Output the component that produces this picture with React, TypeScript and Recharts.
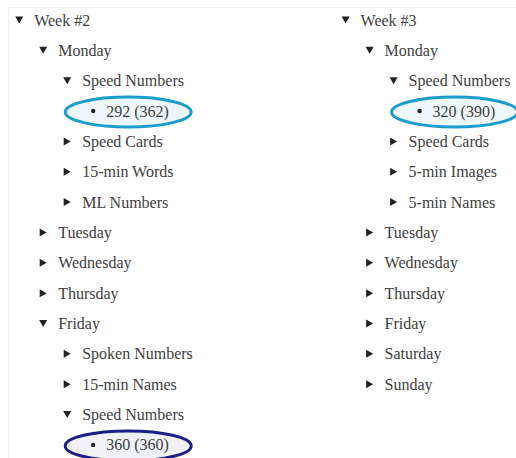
import { Scatter, ScatterChart, XAxis, YAxis } from "recharts"

// tree outline: each entry is one visible row
type Row = {
  label: string
  depth: number
  kind: "open" | "closed" | "leaf"
  mark?: "light" | "dark"
}

const week2: Row[] = [
  { label: "Week #2", depth: 0, kind: "open" },
  { label: "Monday", depth: 1, kind: "open" },
  { label: "Speed Numbers", depth: 2, kind: "open" },
  { label: "292 (362)", depth: 3, kind: "leaf", mark: "light" },
  { label: "Speed Cards", depth: 2, kind: "closed" },
  { label: "15-min Words", depth: 2, kind: "closed" },
  { label: "ML Numbers", depth: 2, kind: "closed" },
  { label: "Tuesday", depth: 1, kind: "closed" },
  { label: "Wednesday", depth: 1, kind: "closed" },
  { label: "Thursday", depth: 1, kind: "closed" },
  { label: "Friday", depth: 1, kind: "open" },
  { label: "Spoken Numbers", depth: 2, kind: "closed" },
  { label: "15-min Names", depth: 2, kind: "closed" },
  { label: "Speed Numbers", depth: 2, kind: "open" },
  { label: "360 (360)", depth: 3, kind: "leaf", mark: "dark" },
]

const week3: Row[] = [
  { label: "Week #3", depth: 0, kind: "open" },
  { label: "Monday", depth: 1, kind: "open" },
  { label: "Speed Numbers", depth: 2, kind: "open" },
  { label: "320 (390)", depth: 3, kind: "leaf", mark: "light" },
  { label: "Speed Cards", depth: 2, kind: "closed" },
  { label: "5-min Images", depth: 2, kind: "closed" },
  { label: "5-min Names", depth: 2, kind: "closed" },
  { label: "Tuesday", depth: 1, kind: "closed" },
  { label: "Wednesday", depth: 1, kind: "closed" },
  { label: "Thursday", depth: 1, kind: "closed" },
  { label: "Friday", depth: 1, kind: "closed" },
  { label: "Saturday", depth: 1, kind: "closed" },
  { label: "Sunday", depth: 1, kind: "closed" },
]

// second column starts this many indent steps to the right
const COL_SPAN = 13.6

const toPoints = (rows: Row[], col: number) =>
  rows.map((r, i) => ({ ...r, x: col * COL_SPAN + r.depth, y: i }))

const points = [...toPoints(week2, 0), ...toPoints(week3, 1)]

const TEXT = "#404040"
const MARKS = {
  light: { stroke: "#1b9ccf", fill: "#eef7fb" },
  dark: { stroke: "#1c1f8a", fill: "#f0f2f7" },
}

function Label({ x, y, children }: { x: number; y: number; children: string }) {
  return (
    <text x={x} y={y} fontSize={16} fontFamily="Liberation Serif" fill={TEXT}>
      {children}
    </text>
  )
}

function Node(props: any) {
  const { cx, cy, payload } = props
  const p = payload as Row
  if (p.kind === "leaf") {
    const m = p.mark ? MARKS[p.mark] : null
    return (
      <g>
        {m && (
          <ellipse
            cx={cx + 37}
            cy={cy + 1}
            rx={63}
            ry={15}
            fill={m.fill}
            stroke={m.stroke}
            strokeWidth={3}
          />
        )}
        <circle cx={cx + 2} cy={cy} r={2.2} fill="#222" />
        <Label x={cx + 15} y={cy + 5.5}>
          {p.label}
        </Label>
      </g>
    )
  }
  const tri =
    p.kind === "open"
      ? `M${cx - 4},${cy - 3.5} L${cx + 4},${cy - 3.5} L${cx},${cy + 3.5} Z`
      : `M${cx - 3.5},${cy - 4} L${cx + 3.5},${cy} L${cx - 3.5},${cy + 4} Z`
  return (
    <g>
      <path d={tri} fill="#222" />
      <Label x={cx + 15} y={cy + 5.5}>
        {p.label}
      </Label>
    </g>
  )
}

export default function App() {
  return (
    <div
      style={{
        position: "absolute",
        left: 0,
        top: 0,
        width: 516,
        height: 458,
        background: "#fff",
      }}
    >
      <div
        style={{
          position: "absolute",
          left: 8,
          top: 7,
          right: 0,
          bottom: 0,
          borderLeft: "1px solid #efefef",
          borderTop: "1px solid #efefef",
        }}
      />
      <ScatterChart
        width={516}
        height={458}
        margin={{ top: 0, right: 0, bottom: 0, left: 0 }}
        style={{ position: "absolute", left: 0, top: 0 }}
      >
        <XAxis type="number" dataKey="x" domain={[-0.8, 20.7]} hide />
        <YAxis
          type="number"
          dataKey="y"
          domain={[-0.659, 14.432]}
          reversed
          hide
        />
        <Scatter data={points} shape={Node} isAnimationActive={false} />
      </ScatterChart>
    </div>
  )
}
